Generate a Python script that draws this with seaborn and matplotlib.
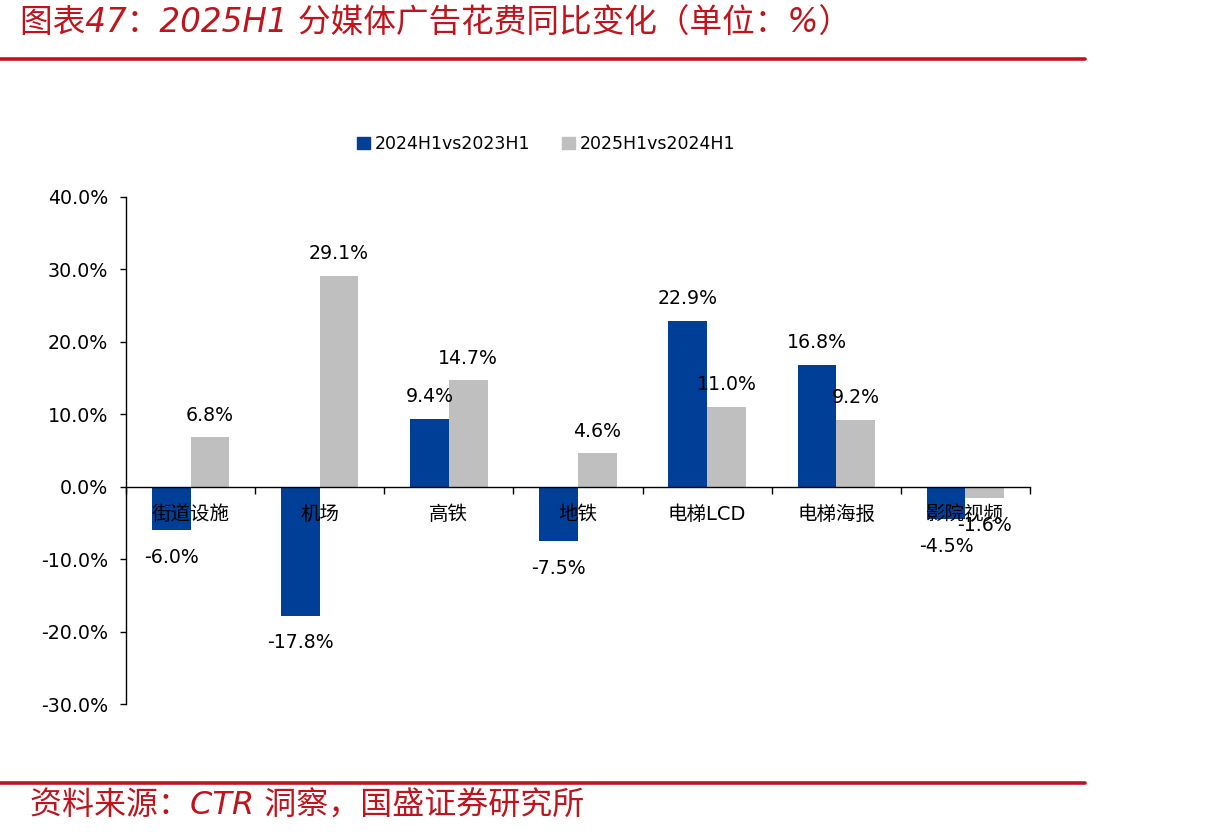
import numpy as np
import pandas as pd
import matplotlib
matplotlib.use("Agg")
import matplotlib.pyplot as plt
from matplotlib.lines import Line2D
from matplotlib.ticker import FuncFormatter, FixedLocator
import seaborn as sns

categories = ["街道设施", "机场", "高铁", "地铁", "电梯LCD", "电梯海报", "影院视频"]
series_names = ["2024H1vs2023H1", "2025H1vs2024H1"]
yoy_2024 = [-6.0, -17.8, 9.4, -7.5, 22.9, 16.8, -4.5]
yoy_2025 = [6.8, 29.1, 14.7, 4.6, 11.0, 9.2, -1.6]
y_ticks = [-30, -20, -10, 0, 10, 20, 30, 40]

title = "图表47：2025H1 分媒体广告花费同比变化（单位：%）"
source = "资料来源：CTR 洞察，国盛证券研究所"

colors = ["#003F98", "#BFBFBF"]
red = "#C0141C"

sns.set_theme(style="white")
plt.rcParams["font.family"] = ["DejaVu Sans", "Noto Sans CJK SC"]
plt.rcParams["axes.unicode_minus"] = False
plt.rcParams["text.color"] = "black"
plt.rcParams["axes.labelcolor"] = "black"
plt.rcParams["xtick.color"] = "black"
plt.rcParams["ytick.color"] = "black"

df = pd.DataFrame({
    "category": categories * 2,
    "series": [series_names[0]] * len(categories) + [series_names[1]] * len(categories),
    "value": yoy_2024 + yoy_2025,
})

W, H = 1205, 840
fig = plt.figure(figsize=(W / 100, H / 100), dpi=100)
ax = fig.add_axes([126 / W, 1 - 704 / H, (1030 - 126) / W, (704 - 197) / H])

sns.barplot(data=df, x="category", y="value", hue="series", order=categories,
            hue_order=series_names, palette=colors, width=0.6, saturation=1,
            ax=ax, legend=False, errorbar=None, linewidth=0, edgecolor="none")

ax.set_axisbelow(False)
ax.set_xlim(-0.5, len(categories) - 0.5)
ax.set_ylim(-30, 40)
ax.set_xlabel("")
ax.set_ylabel("")

# spines
for s in ["top", "right"]:
    ax.spines[s].set_visible(False)
ax.spines["bottom"].set_position(("data", 0))
for s in ["left", "bottom"]:
    ax.spines[s].set_color("black")
    ax.spines[s].set_linewidth(1.0)
    ax.spines[s].set_zorder(3)

# y axis
ax.yaxis.set_major_locator(FixedLocator(y_ticks))
ax.yaxis.set_major_formatter(FuncFormatter(lambda v, p: f"{v:.1f}%"))
ax.tick_params(axis="y", which="major", direction="out", length=4, width=1,
               color="black", labelsize=13.7, pad=9, left=True, labelcolor="black")

# x axis: boundary ticks (major), category labels (minor)
ax.xaxis.set_major_locator(FixedLocator(np.arange(-0.5, len(categories), 1.0)))
ax.xaxis.set_major_formatter(FuncFormatter(lambda v, p: ""))
ax.xaxis.set_minor_locator(FixedLocator(np.arange(len(categories))))
ax.set_xticklabels(categories, minor=True)
ax.tick_params(axis="x", which="major", direction="out", length=5, width=1,
               color="black", bottom=True)
ax.tick_params(axis="x", which="minor", length=0, labelsize=14, pad=20,
               labelcolor="black", bottom=True)
for t in ax.get_xticklabels(minor=True):
    t.set_verticalalignment("center")

# data labels
for cont in ax.containers:
    for bar in cont:
        h = bar.get_height()
        xc = bar.get_x() + bar.get_width() / 2
        off = 16 if h >= 0 else -19.5
        ax.annotate(f"{h:.1f}%", xy=(xc, h), xytext=(0, off),
                    textcoords="offset points", ha="center", va="center",
                    fontsize=13.6, color="black", zorder=5)

# legend
handles = [plt.Rectangle((0, 0), 1, 1, color=c) for c in colors]
fig.legend(handles, series_names, loc="center", bbox_to_anchor=(546 / W, 1 - 144 / H),
           ncol=2, frameon=False, fontsize=12.5, handlelength=0.75, handleheight=0.75,
           handletextpad=0.3, columnspacing=1.8, labelcolor="black")

# title, source, red rules
fig.text(20 / W, 1 - 23 / H, title, color=red, fontsize=23.5, style="italic",
         ha="left", va="center")
fig.add_artist(Line2D([0, 1085 / W], [1 - 59 / H] * 2, color=red, lw=2.6))
fig.add_artist(Line2D([0, 1085 / W], [1 - 783 / H] * 2, color=red, lw=2.6))
fig.text(30 / W, 1 - 806 / H, source, color=red, fontsize=23, style="italic",
         ha="left", va="center")

fig.savefig("out.png", dpi=100)
